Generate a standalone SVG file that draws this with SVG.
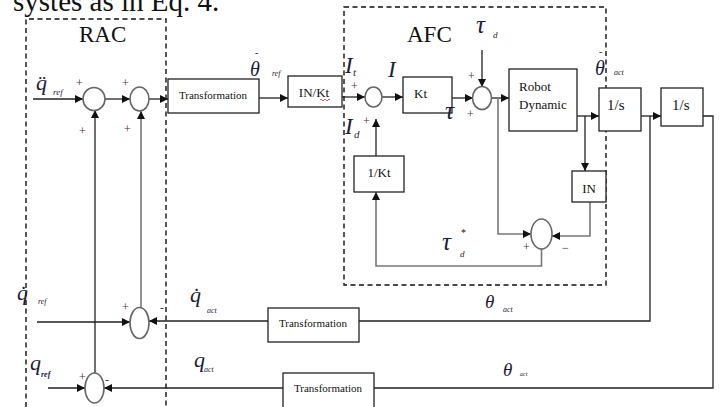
<svg xmlns="http://www.w3.org/2000/svg" width="723" height="407" viewBox="0 0 723 407">
<style>
.box{fill:#fff;stroke:#222;stroke-width:1.3}
.sum{fill:#fff;stroke:#666;stroke-width:1.6}
.ln{fill:none;stroke:#222;stroke-width:1.3}
.gr{stroke:#777;stroke-width:1.6}
.dash{fill:none;stroke:#111;stroke-width:1.4;stroke-dasharray:5,3.5}
text{font-family:"Liberation Serif","Times New Roman",serif;fill:#111}
.bt{font-size:13px}
.tr{font-size:11px;text-anchor:middle}
.m{font-style:italic;fill:#1c1c38}
.s{font-style:italic;fill:#1c1c38}
.pm{font-size:12px;fill:#5a2d2d}
.big{font-size:22px}
.tau{font-size:25px}
.cap{font-size:23px}
.dot{font-size:10px;fill:#1c1c38}
</style>
<defs>
<marker id="ah" viewBox="0 0 10 10" refX="10" refY="5" markerWidth="8" markerHeight="8" orient="auto" markerUnits="userSpaceOnUse">
<path d="M0,0 L10,5 L0,10 z" fill="#111"/>
</marker>
</defs>
<rect width="723" height="407" fill="#fff"/>
<text x="13" y="11" style="font-size:29px">systes as in Eq. 4.</text>

<g id="rac-frame">
<path class="dash" d="M26,407 V19 H166 V407"/>
<text x="79" y="42" class="cap">RAC</text>
</g>
<g id="afc-frame">
<rect class="dash" x="344" y="7" width="262" height="278"/>
<text x="407" y="42" class="cap">AFC</text>
</g>

<g id="connectors">
<path class="ln" d="M33,99 H83" marker-end="url(#ah)"/>
<path class="ln" d="M105,99 H130" marker-end="url(#ah)"/>
<path class="ln" d="M149,99 H168" marker-end="url(#ah)"/>
<path class="ln" d="M259,98 H288" marker-end="url(#ah)"/>
<path class="ln" d="M342,97 H365" marker-end="url(#ah)"/>
<path class="ln" d="M382,97 H403" marker-end="url(#ah)"/>
<path class="ln" d="M452,98 H473" marker-end="url(#ah)"/>
<path class="ln" d="M482,50 V87" marker-end="url(#ah)"/>
<path class="ln" d="M492,98 H509" marker-end="url(#ah)"/>
<path class="ln gr" d="M498,98 V234 H531" marker-end="url(#ah)"/>
<path class="ln" d="M577,116 H599" marker-end="url(#ah)"/>
<path class="ln" d="M585,116 V171" marker-end="url(#ah)"/>
<path class="ln gr" d="M590,202 V236 H552" marker-end="url(#ah)"/>
<path class="ln gr" d="M541.5,249 V266 H376 V192" marker-end="url(#ah)"/>
<path class="ln" d="M376,156 V119" marker-end="url(#ah)"/>
<path class="ln" d="M641,116 H661" marker-end="url(#ah)"/>
<path class="ln" d="M650,116 V321 H359"/>
<path class="ln" d="M268,321 H149" marker-end="url(#ah)"/>
<path class="ln" d="M37,322 H130" marker-end="url(#ah)"/>
<path class="ln gr" d="M141,308 V111" marker-end="url(#ah)"/>
<path class="ln" d="M703,116 H713 V388 H374"/>
<path class="ln" d="M283,388 H104" marker-end="url(#ah)"/>
<path class="ln" d="M48,388 H85" marker-end="url(#ah)"/>
<path class="ln" d="M95,373 V110" marker-end="url(#ah)"/>
</g>

<g id="sum1"><ellipse class="sum" cx="94" cy="99" rx="11" ry="11.5"/>
<text x="76" y="87" class="pm">+</text><text x="79" y="135" class="pm">+</text></g>
<g id="sum2"><ellipse class="sum" cx="139.5" cy="99" rx="9.5" ry="12"/>
<text x="122" y="87" class="pm">+</text><text x="124" y="133" class="pm">+</text></g>
<g id="transformation1"><rect class="box" x="168" y="79" width="91" height="34"/>
<text x="213" y="99" class="tr">Transformation</text></g>
<g id="inkt"><rect class="box" x="288" y="76" width="54" height="31"/>
<text x="314" y="97" class="bt" text-anchor="middle">IN/Kt</text>
<path d="M320,100 q1,-2 2,0 t2,0 t2,0 t2,0 t2,0" fill="none" stroke="#d33" stroke-width="0.8"/></g>
<g id="sum3"><ellipse class="sum" cx="373.5" cy="97" rx="8.5" ry="10"/>
<text x="351" y="90" class="pm">+</text><text x="363" y="125" class="pm">+</text></g>
<g id="kt"><rect class="box" x="403" y="77" width="49" height="36"/>
<text x="414" y="98" class="bt">Kt</text></g>
<g id="sum4"><ellipse class="sum" cx="482" cy="98" rx="9.5" ry="11.5"/>
<text x="468" y="80" class="pm">+</text><text x="467" y="118" class="pm">+</text></g>
<g id="robot"><rect class="box" x="509" y="69" width="68" height="62"/>
<text x="519" y="91" class="bt">Robot</text><text x="519" y="109" class="bt">Dynamic</text></g>
<g id="int1"><rect class="box" x="599" y="88" width="42" height="43"/>
<text x="607" y="110" style="font-size:15px">1/s</text></g>
<g id="int2"><rect class="box" x="661" y="88" width="42" height="38"/>
<text x="672" y="110" style="font-size:15px">1/s</text></g>
<g id="in"><rect class="box" x="572" y="171" width="34" height="31"/>
<text x="589" y="193" class="bt" text-anchor="middle">IN</text></g>
<g id="sum5"><ellipse class="sum" cx="541.5" cy="234" rx="10.5" ry="15"/>
<text x="523" y="251" class="pm">+</text><text x="562" y="252" class="pm">−</text></g>
<g id="invkt"><rect class="box" x="354" y="156" width="50" height="36"/>
<text x="379" y="177" class="bt" text-anchor="middle">1/Kt</text></g>
<g id="sum6"><ellipse class="sum" cx="139.5" cy="323" rx="9.5" ry="15.5"/>
<text x="122" y="311" class="pm">+</text><text x="160" y="312" class="pm">-</text></g>
<g id="transformation2"><rect class="box" x="268" y="308" width="91" height="34"/>
<text x="313" y="327" class="tr">Transformation</text></g>
<g id="sum7"><ellipse class="sum" cx="94.5" cy="388" rx="9.5" ry="15"/>
<text x="79" y="381" class="pm">+</text><text x="105" y="384" class="pm">-</text></g>
<g id="transformation3"><rect class="box" x="283" y="373" width="91" height="40"/>
<text x="328" y="392" class="tr">Transformation</text></g>

<g id="labels">
<text x="36" y="90" class="m big">q̈</text><text x="53" y="95" class="s" style="font-size:9px">ref</text>
<text x="255" y="56" class="dot">-</text>
<text x="250" y="76" class="m" style="font-size:20px">θ</text><text x="272" y="76" class="s" style="font-size:8px">ref</text>
<text x="345" y="73" class="m cap">I</text><text x="353" y="76" class="s" style="font-size:11px">t</text>
<text x="388" y="77" class="m cap">I</text>
<text x="445" y="119" class="m tau">τ</text>
<text x="476" y="33" class="m tau">τ</text><text x="493" y="38" class="s" style="font-size:9px">d</text>
<text x="599" y="55" class="dot">-</text>
<text x="595" y="75" class="m" style="font-size:20px">θ</text><text x="614" y="75" class="s" style="font-size:8px">act</text>
<text x="442" y="250" class="m tau">τ</text><text x="461" y="236" style="font-size:10px">*</text><text x="460" y="257" class="s" style="font-size:9px">d</text>
<text x="345" y="134" class="m cap">I</text><text x="354" y="138" class="s" style="font-size:11px">d</text>
<text x="17" y="300" class="m big">q̇</text><text x="38" y="304" class="s" style="font-size:8px">ref</text>
<text x="190" y="302" class="m big">q̇</text><text x="207" y="313" class="s" style="font-size:8px">act</text>
<text x="489" y="286" class="dot" style="font-size:12px">.</text>
<text x="485" y="308" class="m" style="font-size:19px">θ</text><text x="503" y="312" class="s" style="font-size:8px">act</text>
<text x="30" y="370" class="m big">q</text><text x="41" y="377" class="s" style="font-size:8px;font-weight:bold">ref</text>
<text x="194" y="367" class="m big">q</text><text x="204" y="372" class="s" style="font-size:8px">act</text>
<text x="503" y="376" class="m" style="font-size:19px">θ</text><text x="520" y="376" class="s" style="font-size:6px">act</text>
</g>
</svg>
